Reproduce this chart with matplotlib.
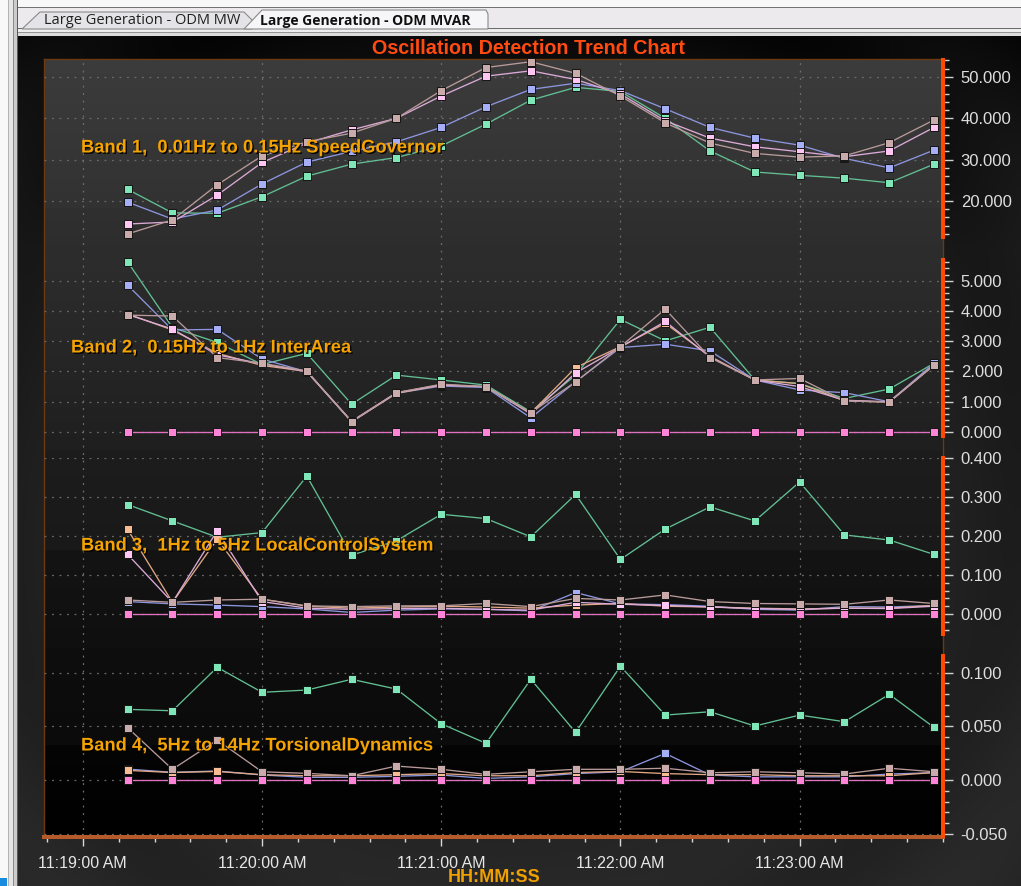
import numpy as np
import matplotlib
matplotlib.use("Agg")
import matplotlib.pyplot as plt
import matplotlib.dates as mdates
import matplotlib.patheffects as pe
from matplotlib.patches import Polygon
from matplotlib.ticker import MultipleLocator, FormatStrFormatter
from datetime import datetime

# ---------------- data ----------------
times = ["11:19:15", "11:19:30", "11:19:45", "11:20:00", "11:20:15", "11:20:30", "11:20:45",
         "11:21:00", "11:21:15", "11:21:30", "11:21:45", "11:22:00", "11:22:15", "11:22:30",
         "11:22:45", "11:23:00", "11:23:15", "11:23:30", "11:23:45"]

band_titles = ["Band 1,  0.01Hz to 0.15Hz SpeedGovernor",
               "Band 2,  0.15Hz to 1Hz InterArea",
               "Band 3,  1Hz to 5Hz LocalControlSystem",
               "Band 4,  5Hz to 14Hz TorsionalDynamics"]

b1_green = [22.8, 17.1, 17.0, 21.0, 26.0, 28.9, 30.5, 33.3, 38.6, 44.4, 47.5, 46.5, 40.0, 32.1, 27.0, 26.2, 25.5, 24.4, 28.9]
b1_blue = [19.7, 15.6, 17.8, 24.1, 29.4, 32.0, 34.3, 37.8, 42.8, 47.0, 48.5, 46.7, 42.3, 37.8, 35.2, 33.5, 30.3, 28.0, 32.3]
b1_pink = [14.4, 14.9, 21.4, 29.3, 34.0, 37.2, 40.0, 45.4, 50.2, 51.5, 49.4, 45.9, 39.4, 35.2, 33.1, 31.9, 30.7, 32.1, 37.8]
b1_rosy = [12.0, 15.4, 23.9, 30.9, 34.3, 36.4, 40.0, 46.7, 52.3, 53.7, 50.9, 45.4, 38.9, 34.0, 31.5, 30.6, 30.9, 34.1, 39.6]

b2_green = [5.62, 3.45, 2.96, 2.23, 2.60, 0.92, 1.88, 1.72, 1.55, 0.67, 1.88, 3.72, 3.01, 3.46, 1.72, 1.60, 1.11, 1.42, 2.27]
b2_blue = [4.85, 3.37, 3.39, 2.41, 1.99, 0.34, 1.28, 1.52, 1.47, 0.47, 1.66, 2.79, 2.90, 2.68, 1.72, 1.39, 1.30, 1.00, 2.27]
b2_peach = [3.90, 3.37, 2.60, 2.20, 2.00, 0.34, 1.28, 1.55, 1.50, 0.63, 2.13, 2.82, 3.59, 2.50, 1.72, 1.60, 1.03, 0.99, 2.21]
b2_pink = [3.88, 3.40, 2.55, 2.25, 2.00, 0.36, 1.30, 1.56, 1.50, 0.60, 1.95, 2.80, 3.65, 2.48, 1.72, 1.50, 1.05, 1.00, 2.21]
b2_rosy = [3.86, 3.83, 2.46, 2.27, 2.02, 0.34, 1.30, 1.58, 1.50, 0.64, 1.66, 2.82, 4.06, 2.46, 1.72, 1.77, 1.03, 0.99, 2.21]
b2_hot = [0.0] * 19

b3_green = [0.281, 0.239, 0.197, 0.209, 0.354, 0.151, 0.188, 0.256, 0.245, 0.198, 0.307, 0.140, 0.218, 0.275, 0.239, 0.339, 0.203, 0.190, 0.153]
b3_blue = [0.032, 0.026, 0.023, 0.019, 0.013, 0.004, 0.010, 0.013, 0.012, 0.008, 0.055, 0.026, 0.024, 0.020, 0.012, 0.010, 0.019, 0.018, 0.022]
b3_peach = [0.217, 0.030, 0.192, 0.038, 0.020, 0.015, 0.018, 0.020, 0.018, 0.015, 0.023, 0.027, 0.020, 0.018, 0.015, 0.013, 0.015, 0.015, 0.022]
b3_pink = [0.153, 0.030, 0.214, 0.032, 0.015, 0.012, 0.014, 0.015, 0.012, 0.010, 0.030, 0.025, 0.022, 0.018, 0.014, 0.012, 0.015, 0.014, 0.020]
b3_rosy = [0.036, 0.030, 0.036, 0.038, 0.021, 0.019, 0.021, 0.021, 0.027, 0.019, 0.040, 0.036, 0.049, 0.032, 0.027, 0.026, 0.025, 0.036, 0.027]
b3_hot = [0.0] * 19

b4_green = [0.0658, 0.0645, 0.105, 0.0817, 0.0838, 0.0938, 0.0847, 0.0524, 0.0342, 0.0938, 0.0444, 0.106, 0.0605, 0.0636, 0.0503, 0.0605, 0.0543, 0.0798, 0.049]
b4_blue = [0.0102, 0.0072, 0.0084, 0.0047, 0.0025, 0.0025, 0.0035, 0.0047, 0.0015, 0.003, 0.006, 0.0077, 0.0248, 0.0047, 0.003, 0.003, 0.003, 0.0056, 0.0068]
b4_peach = [0.009, 0.007, 0.008, 0.005, 0.004, 0.004, 0.005, 0.006, 0.004, 0.004, 0.007, 0.008, 0.006, 0.005, 0.005, 0.004, 0.004, 0.004, 0.007]
b4_rosy = [0.0487, 0.010, 0.0372, 0.0077, 0.0062, 0.004, 0.013, 0.010, 0.0053, 0.0077, 0.010, 0.010, 0.011, 0.0068, 0.0077, 0.0068, 0.0056, 0.011, 0.0077]
b4_hot = [0.0] * 19

# ---------------- styles ----------------
W, H = 1021, 886
C = {
    "green": ("#62bf93", "#7fe6b7"),
    "blue": ("#8c95de", "#a6aef8"),
    "pink": ("#dcaad8", "#ffc6f4"),
    "rosy": ("#b89a9a", "#c9abab"),
    "peach": ("#e0a884", "#f8bc94"),
    "hot": ("#e070c0", "#ff84d8"),
}

fig = plt.figure(figsize=(W / 100, H / 100), dpi=100)


def rect(l, t, r, b):
    return [l / W, 1 - b / H, (r - l) / W, (b - t) / H]


# ---------------- background image ----------------
arr = np.full((H, W, 3), 0.975)
arr[7:8, 15:] = 0.45
arr[8:28, 15:] = (0.93, 0.92, 0.935)
arr[28:29, 15:] = 0.42
arr[29:32, 15:] = 0.93
arr[32:33, 15:] = 0.58
arr[33:36, 15:] = 0.86
arr[0:, 8:9] = 0.70
arr[0:, 9:13] = 0.90
arr[0:, 13:14] = 0.55
arr[0:, 14:17] = 0.80
arr[0:, 17:18] = 0.35
yy, xx = np.mgrid[36:H, 18:W]
base = np.interp(yy, [36, 250, 886], [8, 27, 38])
r = np.hypot(xx - 500, yy - 470)
ring = 3.5 * np.sin(r / 30.0) * np.clip((r - 300) / 200, 0, 1)
cont = np.clip(base + ring, 0, 255) / 255.0
arr[36:H, 18:W] = cont[..., None]
py = np.arange(59, 838)
ys = [59, 207, 208, 258, 259, 449, 450, 549, 550, 647, 648, 744, 745, 838]
vs = [60, 50, 48, 44, 45, 31, 29, 25, 20, 15, 14, 11, 5, 0]
g = np.interp(py, ys, vs) / 255.0
arr[59:838, 44:943] = g[:, None, None]
arr[878:, 0:7] = (0.10, 0.55, 0.88)

ax_bg = fig.add_axes([0, 0, 1, 1])
ax_bg.imshow(arr, extent=(0, W, H, 0), aspect="auto", interpolation="nearest")
ax_bg.set_xlim(0, W)
ax_bg.set_ylim(H, 0)
ax_bg.axis("off")

ax_bg.add_patch(Polygon([(22, 29), (40, 12), (244, 12), (252, 20), (252, 29)], closed=True,
                        facecolor="#e4e3e8", edgecolor="#8a8a8a", lw=0.8))
ax_bg.add_patch(Polygon([(244, 29), (262, 10), (486, 10), (488, 14), (488, 29)], closed=True,
                        facecolor="#f6f6f8", edgecolor="#8a8a8a", lw=0.8))
ax_bg.text(44, 20.5, "Large Generation - ODM MW", fontsize=10.5, color="#202020",
           family="Open Sans", va="center", ha="left")
ax_bg.text(260, 20.5, "Large Generation - ODM MVAR", fontsize=10.0, color="#101010",
           family="Open Sans", weight="bold", va="center", ha="left")

fig.text(528 / W, 1 - 48 / H, "Oscillation Detection Trend Chart", color="#ff4a12",
         fontsize=14.2, weight="bold", family="Liberation Sans", ha="center", va="center")

# ---------------- main time axis ----------------
tdt = [datetime.strptime("2000-01-01 " + t, "%Y-%m-%d %H:%M:%S") for t in times]
x_left = datetime(2000, 1, 1, 11, 18, 47)
x_right = datetime(2000, 1, 1, 11, 23, 48)

ax0 = fig.add_axes(rect(44, 59, 943, 837))
ax0.set_facecolor("none")
ax0.set_xlim(x_left, x_right)
ax0.set_ylim(0, 1)
ax0.xaxis.set_major_locator(mdates.MinuteLocator())
ax0.xaxis.set_minor_locator(mdates.SecondLocator(bysecond=range(0, 60, 12)))
ax0.xaxis.set_major_formatter(mdates.DateFormatter("%I:%M:%S %p"))
ax0.set_yticks([])
ax0.tick_params(axis="x", which="major", length=6.5, width=1, color="#d8d8d8",
                labelcolor="#e6e6e6", labelsize=11.5, pad=7)
ax0.tick_params(axis="x", which="minor", length=3.6, width=1, color="#d8d8d8")
for lab in ax0.get_xticklabels():
    lab.set_family("Liberation Sans")
ax0.grid(axis="x", which="major", color="#6e6e6e", linestyle=(0, (1.5, 4.5)), lw=0.9)
ax0.spines["bottom"].set_color("#b55a28")
ax0.spines["bottom"].set_linewidth(2.9)
for s in ("left", "top", "right"):
    ax0.spines[s].set_color("#6e3810")
    ax0.spines[s].set_linewidth(1.0)
fig.text(494 / W, 1 - 877 / H, "HH:MM:SS", color="#f0a000", fontsize=13, weight="bold",
         family="Liberation Sans", ha="center", va="center")

# ---------------- bands ----------------
bands = [
    (rect(44, 60, 943, 237), (11.26, 54.12), 10, 2, [("green", b1_green), ("blue", b1_blue), ("pink", b1_pink), ("rosy", b1_rosy)]),
    (rect(44, 260, 943, 436), (-0.13, 5.68), 1, 0.2, [("green", b2_green), ("blue", b2_blue), ("peach", b2_peach), ("pink", b2_pink), ("rosy", b2_rosy), ("hot", b2_hot)]),
    (rect(44, 458, 943, 634), (-0.0513, 0.4005), 0.1, 0.02, [("green", b3_green), ("blue", b3_blue), ("peach", b3_peach), ("pink", b3_pink), ("rosy", b3_rosy), ("hot", b3_hot)]),
    (rect(44, 656, 943, 836), (-0.0521, 0.1155), 0.05, 0.01, [("green", b4_green), ("blue", b4_blue), ("peach", b4_peach), ("rosy", b4_rosy), ("hot", b4_hot)]),
]
label_pos = [(81, 148), (71, 348), (81, 546), (81, 746)]

for (pos, ylim, maj, mnr, series), title, (lx, ly) in zip(bands, band_titles, label_pos):
    ax = fig.add_axes(pos)
    ax.set_facecolor("none")
    ax.set_xlim(x_left, x_right)
    ax.set_ylim(*ylim)
    ax.yaxis.tick_right()
    ax.yaxis.set_major_locator(MultipleLocator(maj))
    ax.yaxis.set_minor_locator(MultipleLocator(mnr))
    ax.yaxis.set_major_formatter(FormatStrFormatter("%.3f"))
    ax.tick_params(axis="x", which="both", bottom=False, labelbottom=False)
    ax.tick_params(axis="y", which="major", length=7.2, width=1, color="#d0d0d0",
                   labelcolor="#dedede", labelsize=12, pad=5.5)
    ax.tick_params(axis="y", which="minor", length=4.3, width=1, color="#d0d0d0")
    for lab in ax.get_yticklabels():
        lab.set_family("Liberation Sans")
    ax.grid(axis="y", which="major", color="#6a6a6a", linestyle=(0, (1.5, 4.5)), lw=0.9)
    for s in ("left", "top", "bottom"):
        ax.spines[s].set_visible(False)
    ax.spines["right"].set_color("#ff4a00")
    ax.spines["right"].set_linewidth(2.9)
    for i, (name, vals) in enumerate(series):
        lc, fc = C[name]
        ax.plot(tdt, vals, color=lc, lw=0.95, marker="s", ms=5.2, mfc=fc, mec="#141414",
                mew=0.7, clip_on=False, zorder=3 + i)
    fig.text(lx / W, 1 - ly / H, title, color="#f5a300", fontsize=13.2, weight="bold",
             family="Liberation Sans", ha="left", va="center", zorder=20,
             path_effects=[pe.withSimplePatchShadow(offset=(1, -1), shadow_rgbFace="black", alpha=0.9)])

fig.savefig("out.png", dpi=100)
